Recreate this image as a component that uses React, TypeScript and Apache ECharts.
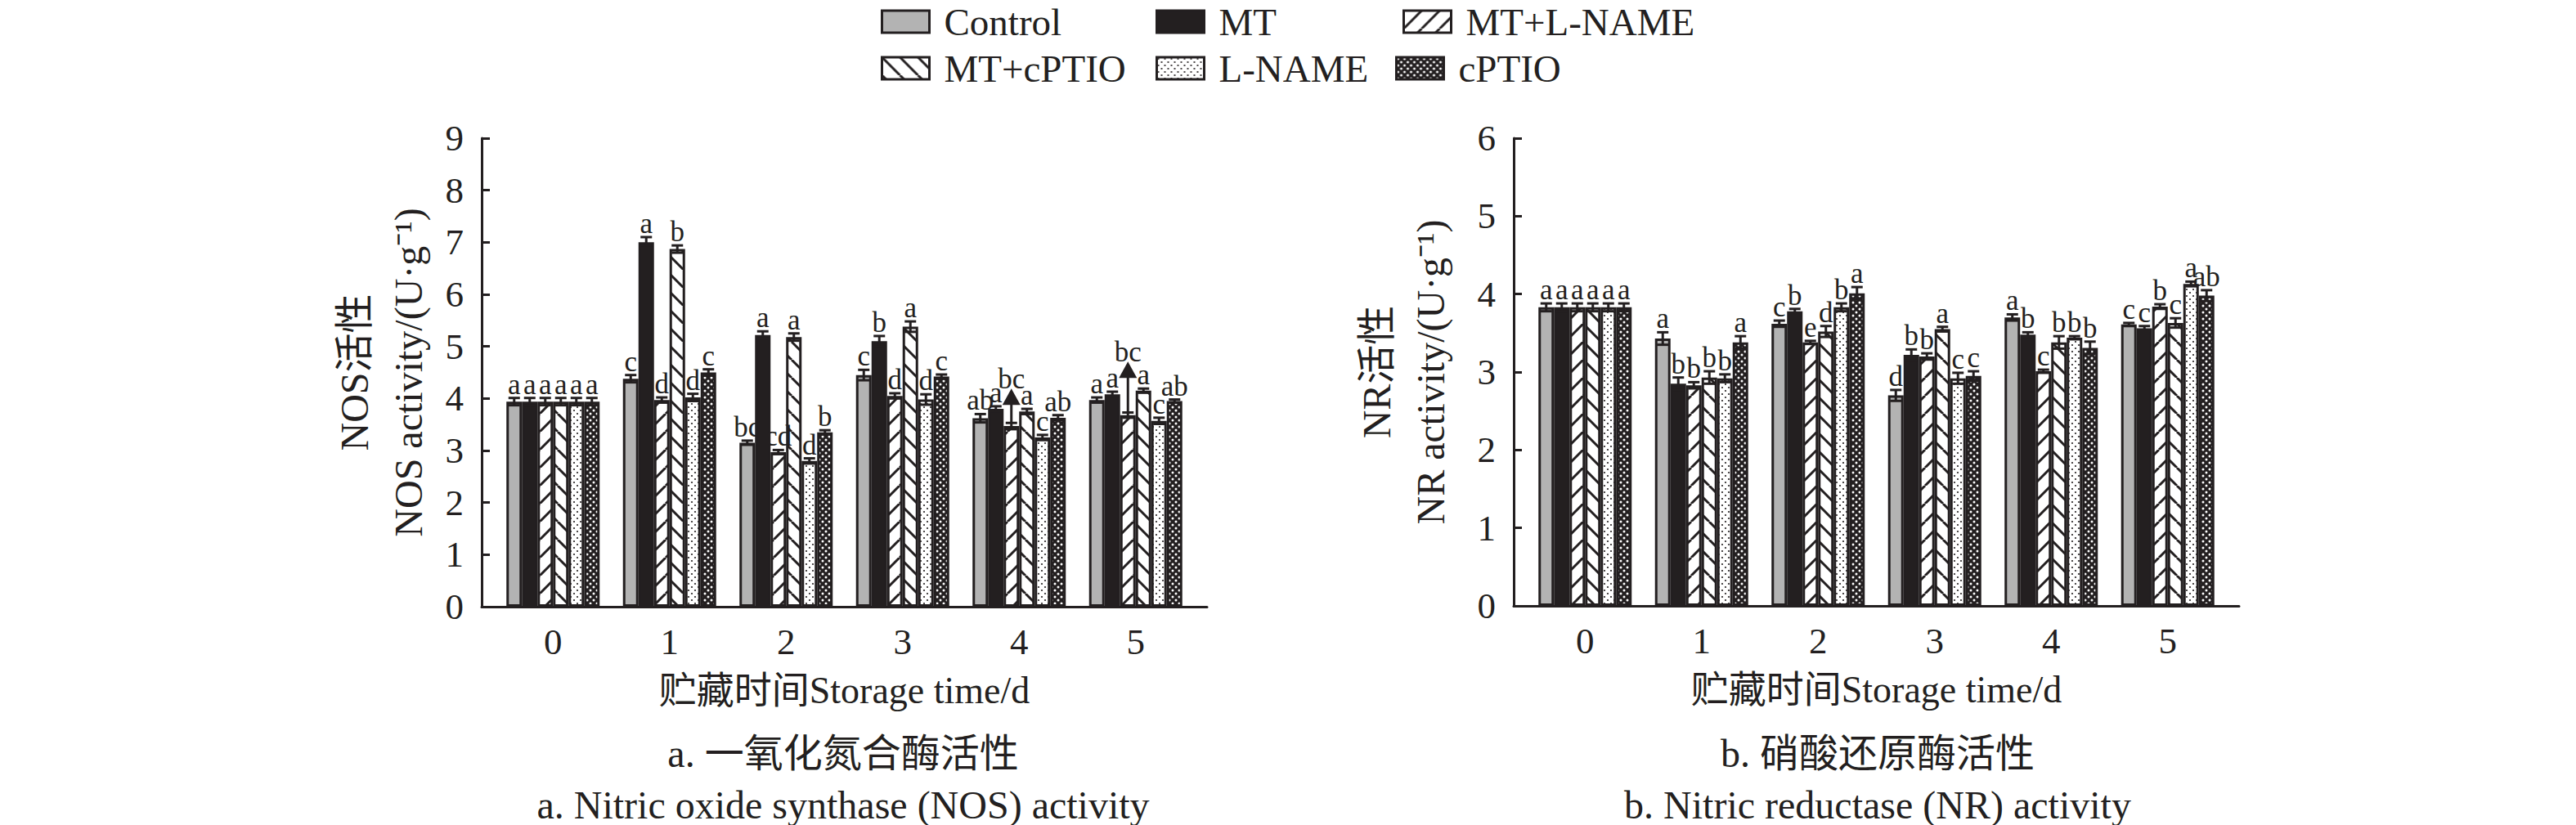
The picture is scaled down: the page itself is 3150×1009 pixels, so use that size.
import React, { useEffect, useRef } from 'react';
import * as echarts from 'echarts';

// ---------- data ----------
const categories = ['0', '1', '2', '3', '4', '5'];
const treatments = ['Control', 'MT', 'MT+L-NAME', 'MT+cPTIO', 'L-NAME', 'cPTIO'];

// NOS activity (U·g-1)
const nosControl = [3.94, 4.38, 3.15, 4.45, 3.62, 3.97];
const nosMT = [3.94, 7.0, 5.22, 5.1, 3.8, 4.08];
const nosMTLNAME = [3.94, 3.97, 2.97, 4.05, 3.47, 3.68];
const nosMTcPTIO = [3.94, 6.87, 5.18, 5.38, 3.75, 4.15];
const nosLNAME = [3.94, 4.02, 2.8, 3.98, 3.25, 3.57];
const nosCPTIO = [3.94, 4.5, 3.35, 4.42, 3.63, 3.95];

const nosErrControl = [0.07, 0.07, 0.04, 0.1, 0.08, 0.05];
const nosErrMT = [0.07, 0.1, 0.07, 0.1, 0.05, 0.05];
const nosErrMTLNAME = [0.07, 0.05, 0.04, 0.05, 0.06, 0.05];
const nosErrMTcPTIO = [0.07, 0.07, 0.07, 0.1, 0.05, 0.04];
const nosErrLNAME = [0.07, 0.07, 0.05, 0.1, 0.05, 0.06];
const nosErrCPTIO = [0.07, 0.06, 0.04, 0.04, 0.05, 0.03];

const nosLetControl = ['a', 'c', 'bc', 'c', 'ab', 'a'];
const nosLetMT = ['a', 'a', 'a', 'b', 'a', 'a'];
const nosLetMTLNAME = ['a', 'd', 'cd', 'd', 'bc', 'bc'];
const nosLetMTcPTIO = ['a', 'b', 'a', 'a', 'a', 'a'];
const nosLetLNAME = ['a', 'd', 'd', 'd', 'c', 'c'];
const nosLetCPTIO = ['a', 'c', 'b', 'c', 'ab', 'ab'];

// arrows (letter moved up to the arrow tip) for MT+L-NAME
const nosArrowSeries = 2;
const nosArrowCats = [4, 5];
const nosArrowTips = [4.19, 4.71];

// NR activity (U·g-1)
const nrControl = [3.83, 3.43, 3.62, 2.7, 3.7, 3.61];
const nrMT = [3.83, 2.85, 3.78, 3.22, 3.48, 3.56];
const nrMTLNAME = [3.83, 2.83, 3.38, 3.2, 3.01, 3.84];
const nrMTcPTIO = [3.83, 2.93, 3.52, 3.55, 3.38, 3.63];
const nrLNAME = [3.83, 2.92, 3.83, 2.92, 3.44, 4.13];
const nrCPTIO = [3.83, 3.38, 4.01, 2.95, 3.31, 3.98];

const nrErrControl = [0.05, 0.08, 0.04, 0.07, 0.04, 0.02];
const nrErrMT = [0.05, 0.08, 0.03, 0.07, 0.03, 0.03];
const nrErrMTLNAME = [0.05, 0.04, 0.02, 0.04, 0.02, 0.03];
const nrErrMTcPTIO = [0.05, 0.08, 0.07, 0.03, 0.08, 0.06];
const nrErrLNAME = [0.05, 0.05, 0.05, 0.07, 0.02, 0.03];
const nrErrCPTIO = [0.05, 0.08, 0.08, 0.06, 0.08, 0.07];

const nrLetControl = ['a', 'a', 'c', 'd', 'a', 'c'];
const nrLetMT = ['a', 'b', 'b', 'b', 'b', 'c'];
const nrLetMTLNAME = ['a', 'b', 'e', 'b', 'c', 'b'];
const nrLetMTcPTIO = ['a', 'b', 'd', 'a', 'b', 'c'];
const nrLetLNAME = ['a', 'b', 'b', 'c', 'b', 'a'];
const nrLetCPTIO = ['a', 'a', 'a', 'c', 'b', 'ab'];

const nosTicks = { min: 0, max: 9, interval: 1 };
const nrTicks = { min: 0, max: 6, interval: 1 };

// ---------- styles ----------
const INK = '#231f20';
const SERIF = '"Liberation Serif", "Noto Sans CJK SC", serif';
const BAR_W = 19;
const LETTER_SIZE = 35;

function tile(kind: string) {
  const s = kind === 'fwd' || kind === 'back' ? 22 : 8;
  const cv = document.createElement('canvas');
  cv.width = s;
  cv.height = s;
  const ctx = cv.getContext('2d') as CanvasRenderingContext2D;
  if (kind === 'fwd' || kind === 'back') {
    ctx.fillStyle = '#ffffff';
    ctx.fillRect(0, 0, s, s);
    ctx.strokeStyle = INK;
    ctx.lineWidth = 3;
    ctx.beginPath();
    for (const o of [-s, 0, s]) {
      if (kind === 'fwd') {
        ctx.moveTo(o, s);
        ctx.lineTo(o + s, 0);
      } else {
        ctx.moveTo(o, 0);
        ctx.lineTo(o + s, s);
      }
    }
    ctx.stroke();
  } else if (kind === 'dots') {
    ctx.fillStyle = '#ffffff';
    ctx.fillRect(0, 0, s, s);
    ctx.fillStyle = INK;
    for (const p of [[2, 2], [6, 6]]) {
      ctx.beginPath();
      ctx.arc(p[0], p[1], 1.1, 0, Math.PI * 2);
      ctx.fill();
    }
  } else {
    ctx.fillStyle = INK;
    ctx.fillRect(0, 0, s, s);
    ctx.fillStyle = '#ffffff';
    for (const p of [[2, 2], [6, 6]]) {
      ctx.beginPath();
      ctx.arc(p[0], p[1], 1.5, 0, Math.PI * 2);
      ctx.fill();
    }
  }
  return { image: cv.toDataURL(), repeat: 'repeat', imageWidth: s, imageHeight: s };
}

function buildOption() {
  const fills: any[] = ['#b3b3b3', INK, tile('fwd'), tile('back'), tile('dots'), tile('dark')];

  const nosVals = [nosControl, nosMT, nosMTLNAME, nosMTcPTIO, nosLNAME, nosCPTIO];
  const nosErrs = [nosErrControl, nosErrMT, nosErrMTLNAME, nosErrMTcPTIO, nosErrLNAME, nosErrCPTIO];
  const nosLets = [nosLetControl, nosLetMT, nosLetMTLNAME, nosLetMTcPTIO, nosLetLNAME, nosLetCPTIO];
  const nrVals = [nrControl, nrMT, nrMTLNAME, nrMTcPTIO, nrLNAME, nrCPTIO];
  const nrErrs = [nrErrControl, nrErrMT, nrErrMTLNAME, nrErrMTcPTIO, nrErrLNAME, nrErrCPTIO];
  const nrLets = [nrLetControl, nrLetMT, nrLetMTLNAME, nrLetMTcPTIO, nrLetLNAME, nrLetCPTIO];

  const grids = [
    { left: 605, top: 169, width: 855, height: 573 },
    { left: 1867, top: 169, width: 855, height: 572 },
    { left: 589, top: 169, width: 887, height: 573 },
    { left: 1851, top: 169, width: 887, height: 572 },
  ].map((g) => ({ ...g, containLabel: false, outerBoundsMode: 'none' }));

  const catAxis = (gi: number) => ({
    type: 'category',
    gridIndex: gi,
    data: categories,
    axisLine: { show: false },
    axisTick: { show: false },
    axisLabel: { fontSize: 45, fontFamily: SERIF, color: INK, margin: 20 },
    splitLine: { show: false },
    name: '贮藏时间Storage time/d',
    nameLocation: 'middle',
    nameGap: 79,
    nameTextStyle: { fontSize: 46, fontFamily: SERIF, color: INK },
  });
  const baseAxis = (gi: number) => ({
    type: 'value',
    gridIndex: gi,
    min: 0,
    max: 1,
    axisLine: { show: true, onZero: false, lineStyle: { color: INK, width: 3 } },
    axisTick: { show: false },
    axisLabel: { show: false },
    splitLine: { show: false },
  });
  const valAxis = (gi: number, ticks: any, name: string, gap: number) => ({
    type: 'value',
    gridIndex: gi,
    min: ticks.min,
    max: ticks.max,
    interval: ticks.interval,
    offset: 16,
    axisLine: { show: true, lineStyle: { color: INK, width: 3 } },
    axisTick: { show: true, inside: true, length: 10, lineStyle: { color: INK, width: 3 } },
    axisLabel: { fontSize: 45, fontFamily: SERIF, color: INK, margin: 22 },
    splitLine: { show: false },
    name,
    nameLocation: 'middle',
    nameGap: gap,
    nameTextStyle: { fontSize: 48, lineHeight: 66, fontFamily: SERIF, color: INK, align: 'center' },
  });

  const series: any[] = [];
  const addBars = (vals: number[][], gi: number) => {
    vals.forEach((v, i) => {
      series.push({
        type: 'bar',
        name: treatments[i],
        xAxisIndex: gi,
        yAxisIndex: gi,
        data: v,
        barWidth: BAR_W,
        barGap: '0%',
        itemStyle: { color: fills[i], borderColor: INK, borderWidth: 3 },
        emphasis: { disabled: true },
        z: 2,
      });
    });
  };
  addBars(nosVals, 0);
  addBars(nrVals, 1);

  const addErr = (
    vals: number[][],
    errs: number[][],
    lets: string[][],
    gi: number,
    arrowSeries: number,
    arrowCats: number[],
    arrowTips: number[]
  ) => {
    const data: number[][] = [];
    vals.forEach((v, s) => v.forEach((val, c) => data.push([c, s, val, errs[s][c]])));
    series.push({
      type: 'custom',
      xAxisIndex: gi,
      yAxisIndex: gi,
      data,
      encode: { x: 0, y: 2 },
      z: 5,
      silent: true,
      renderItem: (params: any, api: any) => {
        const c = api.value(0);
        const s = api.value(1);
        const v = api.value(2);
        const e = api.value(3);
        const p = api.coord([c, v]);
        const x = p[0] + (s - 2.5) * BAR_W;
        const yT = api.coord([c, v + e])[1];
        const yB = api.coord([c, v - e])[1];
        const ls = { stroke: INK, lineWidth: 3 };
        const children: any[] = [
          { type: 'line', shape: { x1: x, y1: yB, x2: x, y2: yT }, style: ls },
          { type: 'line', shape: { x1: x - 7, y1: yT, x2: x + 7, y2: yT }, style: ls },
          { type: 'line', shape: { x1: x - 7, y1: yB, x2: x + 7, y2: yB }, style: ls },
        ];
        const letter = lets[s][c];
        const ai = s === arrowSeries ? arrowCats.indexOf(c) : -1;
        if (ai >= 0) {
          const tipY = api.coord([c, arrowTips[ai]])[1];
          children.push({ type: 'line', shape: { x1: x, y1: yT, x2: x, y2: tipY + 18 }, style: ls });
          children.push({
            type: 'polygon',
            shape: { points: [[x, tipY], [x - 11, tipY + 20], [x + 11, tipY + 20]] },
            style: { fill: INK },
          });
          children.push({
            type: 'text',
            x,
            y: tipY + 6,
            style: { text: letter, align: 'center', verticalAlign: 'bottom', fontSize: LETTER_SIZE, fontFamily: SERIF, fill: INK },
          });
        } else {
          children.push({
            type: 'text',
            x,
            y: yT + 1,
            style: { text: letter, align: 'center', verticalAlign: 'bottom', fontSize: LETTER_SIZE, fontFamily: SERIF, fill: INK },
          });
        }
        return { type: 'group', children };
      },
    });
  };
  addErr(nosVals, nosErrs, nosLets, 0, nosArrowSeries, nosArrowCats, nosArrowTips);
  addErr(nrVals, nrErrs, nrLets, 1, -1, [], []);

  const legendPos = [
    [1077, 3],
    [1413, 3],
    [1715, 3],
    [1077, 60],
    [1413, 60],
    [1706, 60],
  ];
  const legend = treatments.map((t, i) => ({
    data: [t],
    left: legendPos[i][0],
    top: legendPos[i][1],
    padding: 0,
    itemWidth: 58,
    itemHeight: 27,
    icon: 'rect',
    selectedMode: false,
    itemStyle: { borderColor: INK, borderWidth: 3 },
    textStyle: { fontSize: 47, fontFamily: SERIF, color: INK, padding: [0, 0, 0, 13] },
  }));

  const capStyle = (text: string) => ({
    text,
    align: 'center',
    verticalAlign: 'middle',
    fontSize: 48,
    fontFamily: SERIF,
    fill: INK,
  });

  return {
    animation: false,
    backgroundColor: '#ffffff',
    grid: grids,
    legend,
    xAxis: [catAxis(0), catAxis(1), baseAxis(2), baseAxis(3)],
    yAxis: [
      valAxis(0, nosTicks, 'NOS活性\nNOS activity/(U\u00b7g\u207b\u00b9)', 57),
      valAxis(1, nrTicks, 'NR活性\nNR activity/(U\u00b7g\u207b\u00b9)', 69),
      { type: 'value', gridIndex: 2, show: false },
      { type: 'value', gridIndex: 3, show: false },
    ],
    series,
    graphic: [
      { type: 'text', x: 1031, y: 921, style: capStyle('a. 一氧化氮合酶活性') },
      { type: 'text', x: 1031, y: 984, style: capStyle('a. Nitric oxide synthase (NOS) activity') },
      { type: 'text', x: 2296, y: 921, style: capStyle('b. 硝酸还原酶活性') },
      { type: 'text', x: 2296, y: 984, style: capStyle('b. Nitric reductase (NR) activity') },
    ],
  };
}

export default function App() {
  const ref = useRef<HTMLDivElement>(null);
  useEffect(() => {
    if (!ref.current) return;
    const chart = echarts.init(ref.current, undefined, { renderer: 'svg' });
    chart.setOption(buildOption() as any);
    return () => chart.dispose();
  }, []);
  return (
    <div
      ref={ref}
      style={{ position: 'absolute', left: 0, top: 0, width: 3150, height: 1009, background: '#fff' }}
    />
  );
}
